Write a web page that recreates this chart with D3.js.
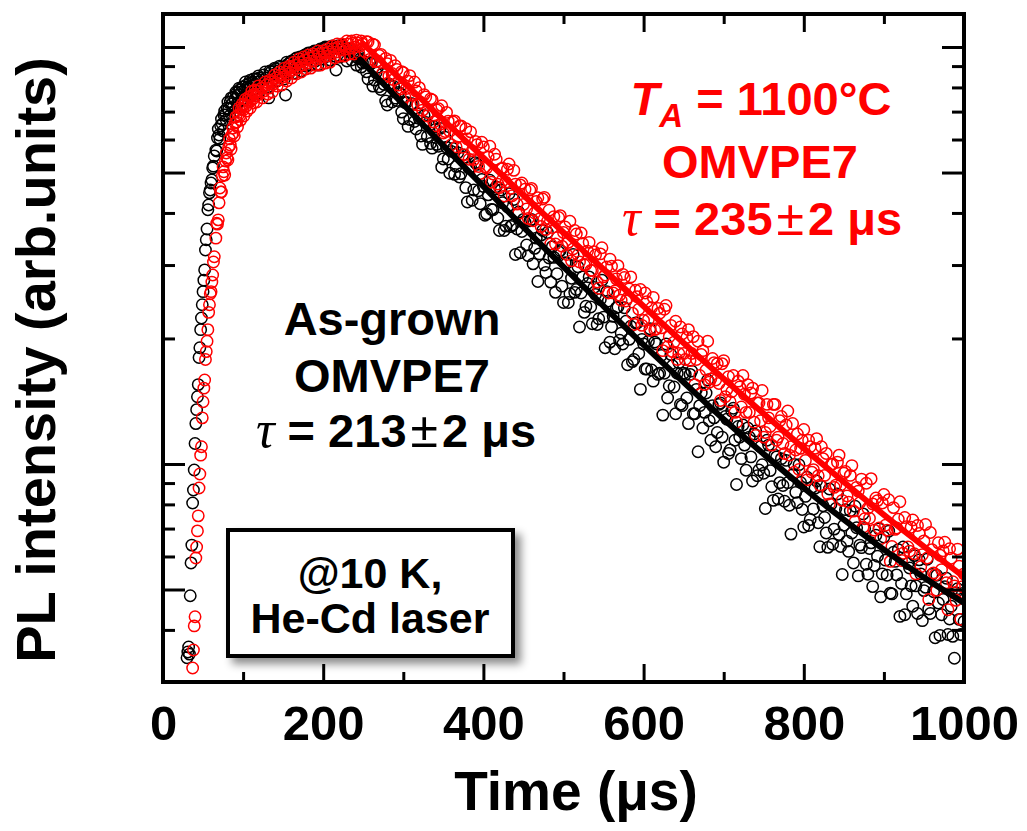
<!DOCTYPE html>
<html>
<head>
<meta charset="utf-8">
<script src="https://cdn.jsdelivr.net/npm/d3@7"></script>
<style>
  body { margin: 0; background: #fff; }
  svg { display: block; }
</style>
</head>
<body>
<svg id="chart" width="1027" height="831"></svg>
<script>
// ---- Time axis (µs) of the transient samples ----
const timeRise = [30,31,32,33,34,35,36,37,38,39,40,41,42,43,44,45,46,47,48,49,50,51,52,53,54,55,56,57,58,59,60,61,62,63,64,
  66,68,70,72,74,76,78,80,82,84,86,88,90,92,94,96,98,100,102,104,106,108,110,112,114,116,118,120,
  123,126,129,132,135,138,141,144,147,150,153,156,159,162,165,168,171,174,177,180,183,186,189,192,195,198,201,204,207,210,213,216,219,222,225,228,231,234,237,240,243,246,249];
const timeRiseExtra = [67,69,71,73,75,77,79,81,83,85,87,89,91,93,95,97,99,101,103,105,107,109,111,113,115,117,119,
  124.5,127.5,130.5,133.5,136.5,139.5,142.5,145.5,148.5,151.5,154.5,157.5,160.5,163.5,166.5,169.5,172.5,175.5,178.5,181.5,
  184.5,187.5,190.5,193.5,196.5,199.5,202.5,205.5,208.5,211.5,214.5,217.5,220.5,223.5,226.5,229.5,232.5,235.5,238.5,241.5,244.5,247.5];
const timeDecay = [
  252,254,256,258,260,262,264,266,268,270,272,274,276,278,280,282,284,286,288,290,
  292,294,296,298,300,302,304,306,308,310,312,314,316,318,320,322,324,326,328,330,
  332,334,336,338,340,342,344,346,348,350,352,354,356,358,360,362,364,366,368,370,
  372,374,376,378,380,382,384,386,388,390,392,394,396,398,400,402,404,406,408,410,
  412,414,416,418,420,422,424,426,428,430,432,434,436,438,440,442,444,446,448,450,
  452,454,456,458,460,462,464,466,468,470,472,474,476,478,480,482,484,486,488,490,
  492,494,496,498,500,502,504,506,508,510,512,514,516,518,520,522,524,526,528,530,
  532,534,536,538,540,542,544,546,548,550,552,554,556,558,560,562,564,566,568,570,
  572,574,576,578,580,582,584,586,588,590,592,594,596,598,600,602,604,606,608,610,
  612,614,616,618,620,622,624,626,628,630,632,634,636,638,640,642,644,646,648,650,
  652,654,656,658,660,662,664,666,668,670,672,674,676,678,680,682,684,686,688,690,
  692,694,696,698,700,702,704,706,708,710,712,714,716,718,720,722,724,726,728,730,
  732,734,736,738,740,742,744,746,748,750,752,754,756,758,760,762,764,766,768,770,
  772,774,776,778,780,782,784,786,788,790,792,794,796,798,800,802,804,806,808,810,
  812,814,816,818,820,822,824,826,828,830,832,834,836,838,840,842,844,846,848,850,
  852,854,856,858,860,862,864,866,868,870,872,874,876,878,880,882,884,886,888,890,
  892,894,896,898,900,902,904,906,908,910,912,914,916,918,920,922,924,926,928,930,
  932,934,936,938,940,942,944,946,948,950,952,954,956,958,960,962,964,966,968,970,
  972,974,976,978,980,982,984,986,988,990,992,994,996,998,1000];

// ---- PL intensity (arb. units), as-grown OMVPE7 ----
const asGrownRise = [0.343,0.354,0.364,0.350,0.483,0.579,0.639,0.806,0.866,0.967,1.12,1.25,1.35,1.45,1.55,1.80,1.90,2.10,2.24,2.41,2.59,2.76,2.92,3.26,3.45,3.66,4.07,4.18,4.47,4.54,4.72,4.80,5.13,5.18,5.48,
  5.66,6.05,6.15,6.47,6.54,6.87,6.87,7.14,7.10,7.38,7.30,7.59,7.50,7.76,7.67,7.89,7.80,8.02,7.89,8.11,8.02,8.20,8.06,8.24,8.15,8.38,8.24,8.43,
  8.33,8.57,8.43,7.55,8.71,8.61,8.86,8.76,8.95,8.86,7.67,9.10,9.20,9.10,9.36,9.25,9.46,9.41,9.57,9.46,9.67,9.57,9.78,9.67,9.84,9.73,9.94,9.78,10.0,9.84,10.0,8.81,9.94,10.06,9.89,9.94,9.78,9.84,9.62,9.57,9.41,9.36,9.15];
const asGrownRiseExtra = [5.63,6.36,6.02,6.72,6.29,7.02,6.68,7.38,6.83,7.55,7.14,6.98,7.80,7.34,7.97,7.42,8.02,7.46,8.24,7.67,7.93,8.33,7.71,8.38,7.93,7.71,8.52,
  8.02,8.71,8.02,8.76,8.29,8.90,8.29,9.00,8.57,8.38,9.20,8.66,9.26,8.66,9.41,8.95,8.76,9.51,9.00,9.68,
  9.05,9.73,9.26,9.05,9.89,9.36,10.0,9.51,9.31,10.06,9.51,10.06,9.46,10.11,9.57,9.26,9.94,9.31,9.68,9.05,9.51,8.95];
const asGrownDecay = [
  9.21,8.72,8.38,9.18,9.13,8.06,8.33,8.68,8.94,8.03,7.91,8.62,8.13,7.42,7.26,8.15,8.08,7.38,8.04,7.54,
  7.44,7.78,7.74,6.98,6.73,7.36,7.36,6.45,6.70,7.31,7.30,6.63,6.36,6.91,6.74,6.12,5.84,6.85,6.59,6.10,
  6.48,5.87,5.72,6.44,6.34,5.84,5.78,6.38,5.15,5.39,6.08,5.75,5.39,4.98,5.62,5.71,4.95,5.17,5.58,4.88,
  4.97,5.51,5.44,4.60,4.25,5.12,5.16,4.29,4.54,5.28,5.23,4.52,4.21,4.81,4.63,3.95,3.98,4.42,4.79,4.08,
  4.07,4.57,4.62,3.89,3.63,4.54,4.23,3.63,3.72,4.14,4.45,3.71,3.74,4.31,3.18,3.66,4.02,3.21,3.61,3.86,
  3.80,3.35,3.16,3.83,3.86,3.02,3.29,3.48,2.74,3.19,3.54,3.63,3.00,2.88,3.59,3.12,2.73,3.32,3.13,2.58,
  2.86,3.23,3.25,2.67,2.44,3.04,3.03,2.44,2.56,2.79,3.18,2.58,2.62,2.97,2.13,2.57,2.81,2.31,2.39,2.71,
  2.81,2.38,2.17,2.65,2.55,2.16,2.23,2.48,2.76,2.25,1.90,2.59,2.46,1.96,2.13,2.26,1.89,2.37,2.38,1.98,
  2.06,1.94,2.37,2.20,1.73,1.99,2.14,1.76,1.78,2.18,2.18,1.84,1.51,1.99,1.94,1.69,1.69,1.97,2.11,1.68,
  1.58,1.96,1.94,1.64,1.65,1.82,1.31,1.65,1.94,1.44,1.54,1.83,1.72,1.53,1.32,1.65,1.75,1.39,1.38,1.65,
  1.64,1.44,1.25,1.64,1.67,1.32,1.32,1.51,1.07,1.38,1.48,1.22,1.33,1.48,1.59,1.27,1.14,1.38,1.29,1.10,
  1.19,1.39,1.40,1.16,1.01,1.30,1.28,1.06,1.08,1.34,1.36,1.14,0.893,1.23,1.16,1.03,1.24,1.11,0.966,1.22,
  1.16,1.04,0.910,1.18,1.20,0.937,0.967,1.10,0.996,0.950,0.782,1.14,1.11,0.964,0.882,0.818,1.05,1.04,0.824,0.902,
  1.03,0.888,0.814,1.02,0.902,0.796,0.679,0.941,0.998,0.855,0.808,0.996,0.903,0.778,0.706,0.836,0.929,0.712,0.736,0.879,
  0.780,0.875,0.910,0.723,0.633,0.884,0.794,0.744,0.683,0.631,0.871,0.801,0.642,0.698,0.782,0.847,0.677,0.634,0.543,0.713,
  0.777,0.653,0.617,0.772,0.683,0.579,0.792,0.703,0.539,0.639,0.630,0.759,0.700,0.575,0.544,0.627,0.647,0.508,0.571,0.675,
  0.601,0.699,0.480,0.545,0.668,0.588,0.541,0.690,0.490,0.488,0.614,0.584,0.542,0.623,0.431,0.517,0.632,0.435,0.488,0.577,
  0.563,0.510,0.456,0.603,0.510,0.438,0.589,0.545,0.421,0.497,0.506,0.591,0.449,0.438,0.543,0.494,0.383,0.541,0.464,0.388,
  0.435,0.473,0.508,0.532,0.390,0.425,0.456,0.386,0.342,0.491,0.502,0.424,0.390,0.489,0.419];

// ---- PL intensity (arb. units), OMVPE7 annealed at 1100 °C ----
const annealedRise = [null,null,null,null,null,null,null,0.324,0.358,0.409,0.430,0.595,0.632,0.691,0.751,0.876,0.946,1.05,1.10,1.29,1.41,1.52,1.59,1.78,1.86,1.97,2.10,2.31,2.41,2.56,2.59,2.73,2.84,3.05,3.14,
  3.48,3.76,4.23,4.49,4.91,5.02,5.33,5.42,5.76,5.82,6.15,6.22,6.57,6.61,6.87,6.83,7.10,7.06,7.30,7.22,7.46,7.38,7.63,7.50,7.71,7.63,7.84,7.71,
  7.97,7.84,8.11,7.97,8.24,8.15,8.43,8.33,8.57,8.47,8.71,8.61,8.90,8.81,9.05,8.90,9.20,9.05,9.31,9.15,9.41,9.25,9.51,9.36,9.62,9.46,9.67,9.51,9.73,9.62,9.89,9.73,10.0,9.84,10.06,9.89,10.17,9.94,10.22,10.0,10.22,10.06,10.17];
const annealedRiseExtra = [3.78,3.85,4.59,4.49,5.16,4.93,5.57,5.36,6.02,5.69,6.39,6.12,6.80,6.43,7.14,6.68,7.30,6.83,7.50,7.02,7.59,7.14,7.84,7.34,7.89,7.38,8.06,
  7.55,8.24,7.71,8.33,7.80,8.57,8.06,8.71,8.11,8.90,8.29,9.00,8.43,9.20,8.62,9.36,8.71,9.46,8.86,9.57,
  8.90,9.62,9.05,9.78,9.05,9.78,9.15,9.89,9.20,10.06,9.41,10.17,9.51,10.17,9.51,10.34,9.62,10.34,9.62,10.39,9.68,10.34];
const annealedDecay = [
  9.73,10.30,10.28,9.34,9.22,10.15,10.11,9.22,9.26,9.54,9.60,8.64,8.45,9.39,9.12,8.52,9.29,8.64,8.35,9.02,
  8.83,8.11,7.93,8.73,8.68,7.60,7.95,8.28,8.54,7.66,7.28,8.24,7.85,7.26,7.99,7.36,7.05,7.69,7.59,6.83,
  6.95,7.51,7.47,6.61,6.47,7.06,7.11,6.53,7.23,6.22,6.27,6.97,6.64,6.28,5.83,6.61,6.65,5.76,6.09,6.46,
  6.47,5.75,5.52,6.37,6.02,5.38,6.26,5.64,5.37,5.94,5.83,5.17,4.97,5.91,5.76,5.16,5.13,5.45,5.78,4.74,
  4.96,5.53,5.38,4.69,4.60,5.11,5.12,4.39,4.74,5.09,5.24,4.58,4.40,5.06,4.69,4.20,3.99,4.67,4.72,4.19,
  4.56,4.09,3.88,4.54,4.58,3.83,4.00,4.26,4.35,3.87,3.71,4.32,4.36,3.65,3.82,4.06,3.37,3.69,3.92,3.37,
  3.49,3.90,3.94,3.33,3.59,3.70,3.18,3.40,3.82,3.07,3.28,3.63,3.56,3.17,3.05,3.58,3.38,3.00,3.01,3.24,
  3.40,2.91,2.91,3.23,3.17,2.73,2.64,3.19,3.30,2.81,2.84,2.97,2.57,3.10,2.98,2.57,2.60,2.78,2.99,2.54,
  2.47,2.85,2.80,2.46,2.50,2.63,2.81,2.30,2.16,2.61,2.52,2.35,2.62,2.15,2.21,2.57,2.45,2.22,2.09,2.37,
  2.51,2.10,2.11,2.36,2.30,2.12,1.87,2.35,2.40,1.91,2.02,2.15,1.86,1.96,2.20,1.78,1.84,2.13,2.05,1.84,
  1.78,2.01,2.10,1.77,1.84,2.02,1.55,1.78,1.97,1.63,1.83,1.87,1.55,1.68,1.97,1.57,1.60,1.79,1.75,1.59,
  1.74,1.56,1.42,1.74,1.77,1.45,1.51,1.62,1.41,1.49,1.63,1.33,1.26,1.58,1.53,1.37,1.63,1.47,1.33,1.55,
  1.33,1.48,1.52,1.26,1.17,1.40,1.40,1.27,1.50,1.16,1.19,1.39,1.29,1.23,1.11,1.39,1.39,1.14,1.16,1.27,
  1.30,1.12,1.06,1.24,1.34,1.05,1.10,1.25,0.955,1.08,1.18,0.970,1.09,1.14,1.21,1.02,0.916,1.14,1.10,0.956,
  0.969,1.09,1.15,0.937,0.890,1.10,1.03,0.939,1.06,0.847,0.802,0.997,1.00,0.879,0.890,1.01,1.05,0.890,0.818,0.950,
  0.959,0.838,0.810,0.939,0.991,0.771,0.728,0.879,0.861,0.807,0.920,0.705,0.739,0.899,0.783,0.741,0.922,0.802,0.694,0.829,
  0.817,0.702,0.662,0.806,0.845,0.713,0.694,0.821,0.584,0.634,0.786,0.697,0.702,0.737,0.812,0.587,0.611,0.744,0.707,0.632,
  0.618,0.705,0.734,0.609,0.545,0.712,0.681,0.567,0.606,0.654,0.716,0.595,0.473,0.685,0.623,0.548,0.542,0.498,0.647,0.604,
  0.558,0.619,0.649,0.519,0.447,0.626,0.594,0.522,0.510,0.471,0.625,0.569,0.424,0.508,0.545];

// ---- Exponential fits of the decay tails ----
const fitTimeAsGrown = [246,300,350,400,450,500,550,600,650,700,750,800,850,900,950,1000];
const fitAsGrown = [9.33,7.28,5.80,4.63,3.70,2.97,2.39,1.93,1.57,1.28,1.056,0.876,0.735,0.623,0.534,0.464];
const fitTimeAnnealed = [250,300,350,400,450,500,550,600,650,700,750,800,850,900,950,1000];
const fitAnnealed = [10.17,8.25,6.69,5.43,4.41,3.59,2.93,2.39,1.95,1.60,1.32,1.09,0.905,0.755,0.634,0.536];

// ---- Axis ticks ----
const xMajorTicks = [0,200,400,600,800,1000];
const xMinorTicks = [100,300,500,700,900];
const yMajorTicks = [0.5,1,5,10];
const yMinorTicks = [0.4,0.6,0.7,0.8,0.9,2,3,4,6,7,8,9];

const SANS = "'Liberation Sans', Arial, Helvetica, sans-serif";
const SERIF = "'Liberation Serif', 'Times New Roman', serif";

const plot = { left: 163, right: 964, top: 14, bottom: 682 };
const x = d3.scaleLinear().domain([0, 1000]).range([plot.left, plot.right]);
const y = d3.scaleLog().domain([0.3, 12]).range([plot.bottom, plot.top]);

const svg = d3.select("#chart");
svg.append("rect").attr("width", 1027).attr("height", 831).attr("fill", "#fff");

const defs = svg.append("defs");
defs.append("clipPath").attr("id", "plotClip")
  .append("rect")
  .attr("x", plot.left).attr("y", plot.top)
  .attr("width", plot.right - plot.left).attr("height", plot.bottom - plot.top);
const shadow = defs.append("filter").attr("id", "boxShadow")
  .attr("x", "-10%").attr("y", "-10%").attr("width", "130%").attr("height", "140%");
shadow.append("feDropShadow")
  .attr("dx", 6).attr("dy", 6).attr("stdDeviation", 4)
  .attr("flood-color", "#000").attr("flood-opacity", 0.45);

function toPoints(times, values) {
  return times.map((t, i) => [t, values[i]]).filter(d => d[1] != null);
}
const asGrownPts = toPoints(timeRise, asGrownRise)
  .concat(toPoints(timeRiseExtra, asGrownRiseExtra))
  .concat(toPoints(timeDecay, asGrownDecay));
const annealedPts = toPoints(timeRise, annealedRise)
  .concat(toPoints(timeRiseExtra, annealedRiseExtra))
  .concat(toPoints(timeDecay, annealedDecay));

const dataLayer = svg.append("g").attr("clip-path", "url(#plotClip)");

function drawScatter(pts, color) {
  dataLayer.append("g")
    .selectAll("circle")
    .data(pts)
    .join("circle")
    .attr("cx", d => x(d[0]))
    .attr("cy", d => y(d[1]))
    .attr("r", 5.7)
    .attr("fill", "none")
    .attr("stroke", color)
    .attr("stroke-width", 1.5);
}
drawScatter(asGrownPts, "#000");
drawScatter(annealedPts, "#ff0000");

const fitLine = d3.line().x(d => x(d[0])).y(d => y(d[1])).curve(d3.curveMonotoneX);
dataLayer.append("path")
  .attr("d", fitLine(toPoints(fitTimeAsGrown, fitAsGrown)))
  .attr("fill", "none").attr("stroke", "#000").attr("stroke-width", 6)
  .attr("stroke-linecap", "round");
dataLayer.append("path")
  .attr("d", fitLine(toPoints(fitTimeAnnealed, fitAnnealed)))
  .attr("fill", "none").attr("stroke", "#ff0000").attr("stroke-width", 6)
  .attr("stroke-linecap", "round");

// ---- Axes (ticks pointing inward on all four sides) ----
function styleAxis(g) {
  g.select(".domain").remove();
  g.selectAll(".tick line").attr("stroke", "#000").attr("stroke-width", 3);
  return g;
}
svg.append("g").attr("transform", `translate(0,${plot.bottom})`)
  .call(d3.axisBottom(x).tickValues(xMajorTicks).tickSize(-18).tickPadding(23).tickFormat(d3.format("d")))
  .call(styleAxis)
  .attr("font-family", SANS).attr("font-size", 49).attr("font-weight", "bold");
svg.append("g").attr("transform", `translate(0,${plot.bottom})`)
  .call(d3.axisBottom(x).tickValues(xMinorTicks).tickSize(-10).tickFormat(""))
  .call(styleAxis);
svg.append("g").attr("transform", `translate(0,${plot.top})`)
  .call(d3.axisTop(x).tickValues(xMajorTicks).tickSize(-18).tickFormat(""))
  .call(styleAxis);
svg.append("g").attr("transform", `translate(0,${plot.top})`)
  .call(d3.axisTop(x).tickValues(xMinorTicks).tickSize(-10).tickFormat(""))
  .call(styleAxis);
svg.append("g").attr("transform", `translate(${plot.left},0)`)
  .call(d3.axisLeft(y).tickValues(yMajorTicks).tickSize(-22).tickFormat(""))
  .call(styleAxis);
svg.append("g").attr("transform", `translate(${plot.left},0)`)
  .call(d3.axisLeft(y).tickValues(yMinorTicks).tickSize(-12).tickFormat(""))
  .call(styleAxis);
svg.append("g").attr("transform", `translate(${plot.right},0)`)
  .call(d3.axisRight(y).tickValues(yMajorTicks).tickSize(-22).tickFormat(""))
  .call(styleAxis);
svg.append("g").attr("transform", `translate(${plot.right},0)`)
  .call(d3.axisRight(y).tickValues(yMinorTicks).tickSize(-12).tickFormat(""))
  .call(styleAxis);

svg.append("rect")
  .attr("x", plot.left).attr("y", plot.top)
  .attr("width", plot.right - plot.left).attr("height", plot.bottom - plot.top)
  .attr("fill", "none").attr("stroke", "#000").attr("stroke-width", 4);

// ---- Axis titles ----
svg.append("text")
  .attr("x", 576).attr("y", 810)
  .attr("text-anchor", "middle")
  .attr("font-family", SANS).attr("font-size", 55).attr("font-weight", "bold")
  .text("Time (\u03bcs)");
svg.append("text")
  .attr("transform", "translate(55,360) rotate(-90)")
  .attr("text-anchor", "middle")
  .attr("font-family", SANS).attr("font-size", 56).attr("font-weight", "bold")
  .text("PL intensity (arb.units)");

// ---- Sample annotations ----
function tauLine(cx, cy, color, value) {
  const t = svg.append("text")
    .attr("x", cx).attr("y", cy)
    .attr("text-anchor", "middle")
    .attr("font-family", SANS).attr("font-size", 47).attr("font-weight", "bold")
    .attr("fill", color);
  t.append("tspan").attr("font-family", SERIF).attr("font-style", "italic")
    .attr("font-weight", "normal").attr("font-size", 52).text("\u03c4");
  t.append("tspan").text(" = " + value);
  t.append("tspan").attr("font-weight", "normal").attr("font-size", 50).attr("dx", 4).text("\u00b1");
  t.append("tspan").attr("dx", 4).text("2 \u03bcs");
}
function plainLine(cx, cy, color, str) {
  svg.append("text")
    .attr("x", cx).attr("y", cy)
    .attr("text-anchor", "middle")
    .attr("font-family", SANS).attr("font-size", 47).attr("font-weight", "bold")
    .attr("fill", color)
    .text(str);
}

plainLine(392, 335, "#000", "As-grown");
plainLine(392, 392, "#000", "OMVPE7");
tauLine(396, 447, "#000", "213");

const ta = svg.append("text")
  .attr("x", 761).attr("y", 115)
  .attr("text-anchor", "middle")
  .attr("font-family", SANS).attr("font-size", 47).attr("font-weight", "bold")
  .attr("fill", "#ff0000");
ta.append("tspan").attr("font-style", "italic").text("T");
ta.append("tspan").attr("font-style", "italic").attr("font-size", 33).attr("dy", 12).text("A");
ta.append("tspan").attr("dy", -12).text(" = 1100\u00b0C");
plainLine(760, 178, "#ff0000", "OMVPE7");
tauLine(762, 235, "#ff0000", "235");

// ---- Measurement conditions box ----
svg.append("rect")
  .attr("x", 228).attr("y", 530).attr("width", 285).attr("height", 126)
  .attr("fill", "#fff").attr("stroke", "#000").attr("stroke-width", 4)
  .attr("filter", "url(#boxShadow)");
svg.append("text")
  .attr("x", 370).attr("y", 588).attr("text-anchor", "middle")
  .attr("font-family", SANS).attr("font-size", 43).attr("font-weight", "bold")
  .text("@10 K,");
svg.append("text")
  .attr("x", 370).attr("y", 633).attr("text-anchor", "middle")
  .attr("font-family", SANS).attr("font-size", 43).attr("font-weight", "bold")
  .text("He-Cd laser");
</script>
</body>
</html>
